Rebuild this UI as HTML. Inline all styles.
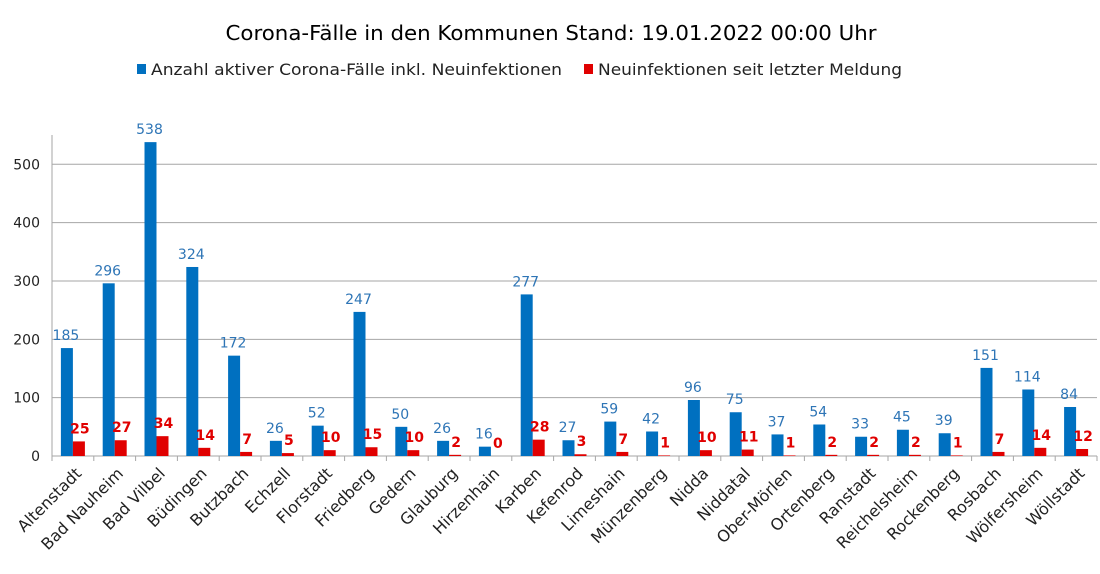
<!DOCTYPE html>
<html><head><meta charset="utf-8"><style>
html,body{margin:0;padding:0;background:#fff;width:1100px;height:574px;overflow:hidden}
svg text{font-family:"DejaVu Sans","Liberation Sans",sans-serif}
</style></head><body>
<svg id="c" width="1100" height="574" xmlns="http://www.w3.org/2000/svg">
<text x="551" y="40" font-size="20" text-anchor="middle" fill="#000" textLength="651" lengthAdjust="spacingAndGlyphs">Corona-Fälle in den Kommunen Stand: 19.01.2022 00:00 Uhr</text>
<rect x="137" y="64" width="9" height="10" fill="#0070c0"/>
<text x="151" y="75" font-size="16" fill="#222" textLength="411" lengthAdjust="spacingAndGlyphs">Anzahl aktiver Corona-Fälle inkl. Neuinfektionen</text>
<rect x="584" y="64" width="9" height="10" fill="#e00000"/>
<text x="598" y="75" font-size="16" fill="#222" textLength="304" lengthAdjust="spacingAndGlyphs">Neuinfektionen seit letzter Meldung</text>
<g id="g"></g>
</svg>
<script>
var names=["Altenstadt","Bad Nauheim","Bad Vilbel","Büdingen","Butzbach","Echzell","Florstadt","Friedberg","Gedern","Glauburg","Hirzenhain","Karben","Kefenrod","Limeshain","Münzenberg","Nidda","Niddatal","Ober-Mörlen","Ortenberg","Ranstadt","Reichelsheim","Rockenberg","Rosbach","Wölfersheim","Wöllstadt"];
var a=[185,296,538,324,172,26,52,247,50,26,16,277,27,59,42,96,75,37,54,33,45,39,151,114,84];
var n=[25,27,34,14,7,5,10,15,10,2,0,28,3,7,1,10,11,1,2,2,2,1,7,14,12];
var x0=52,x1=1097,y0=456,k=0.5834,w=(x1-x0)/25,s="";
for(var v=100;v<=500;v+=100){var y=y0-v*k;s+='<line x1="'+x0+'" x2="'+x1+'" y1="'+y+'" y2="'+y+'" stroke="#a6a6a6" stroke-width="1"/>';s+='<text x="40" y="'+(y+5)+'" font-size="14" text-anchor="end" fill="#222">'+v+'</text>';}
s+='<text x="40" y="'+(y0+5)+'" font-size="14" text-anchor="end" fill="#222">0</text>';
s+='<line x1="'+x0+'" x2="'+x0+'" y1="135" y2="'+y0+'" stroke="#a6a6a6"/>';
s+='<line x1="'+x0+'" x2="'+x1+'" y1="'+y0+'" y2="'+y0+'" stroke="#a6a6a6"/>';
for(var i=0;i<25;i++){var c=x0+w*i+w/2;
var t=x0+w*i;s+='<line x1="'+t+'" x2="'+t+'" y1="'+y0+'" y2="'+(y0+5)+'" stroke="#a6a6a6"/>';
var h=a[i]*k,hr=n[i]*k;
s+='<rect x="'+(c-12)+'" y="'+(y0-h)+'" width="12" height="'+h+'" fill="#0070c0"/>';
s+='<rect x="'+c+'" y="'+(y0-hr)+'" width="12" height="'+hr+'" fill="#e00000"/>';
s+='<text x="'+(c-7)+'" y="'+(y0-h-8)+'" font-size="14" text-anchor="middle" fill="#2e75b6">'+a[i]+'</text>';
var ry=Math.min(y0-hr-8,y0-5);
s+='<text x="'+(c+7)+'" y="'+ry+'" font-size="14" font-weight="bold" text-anchor="middle" fill="#e00000">'+n[i]+'</text>';
s+='<text transform="translate('+(c+1)+','+(y0+10)+') rotate(-45)" font-size="16" text-anchor="end" dominant-baseline="hanging" fill="#222">'+names[i]+'</text>';
}
s+='<line x1="'+x1+'" x2="'+x1+'" y1="'+y0+'" y2="'+(y0+5)+'" stroke="#a6a6a6"/>';
document.getElementById("g").innerHTML=s;
</script>
</body></html>
